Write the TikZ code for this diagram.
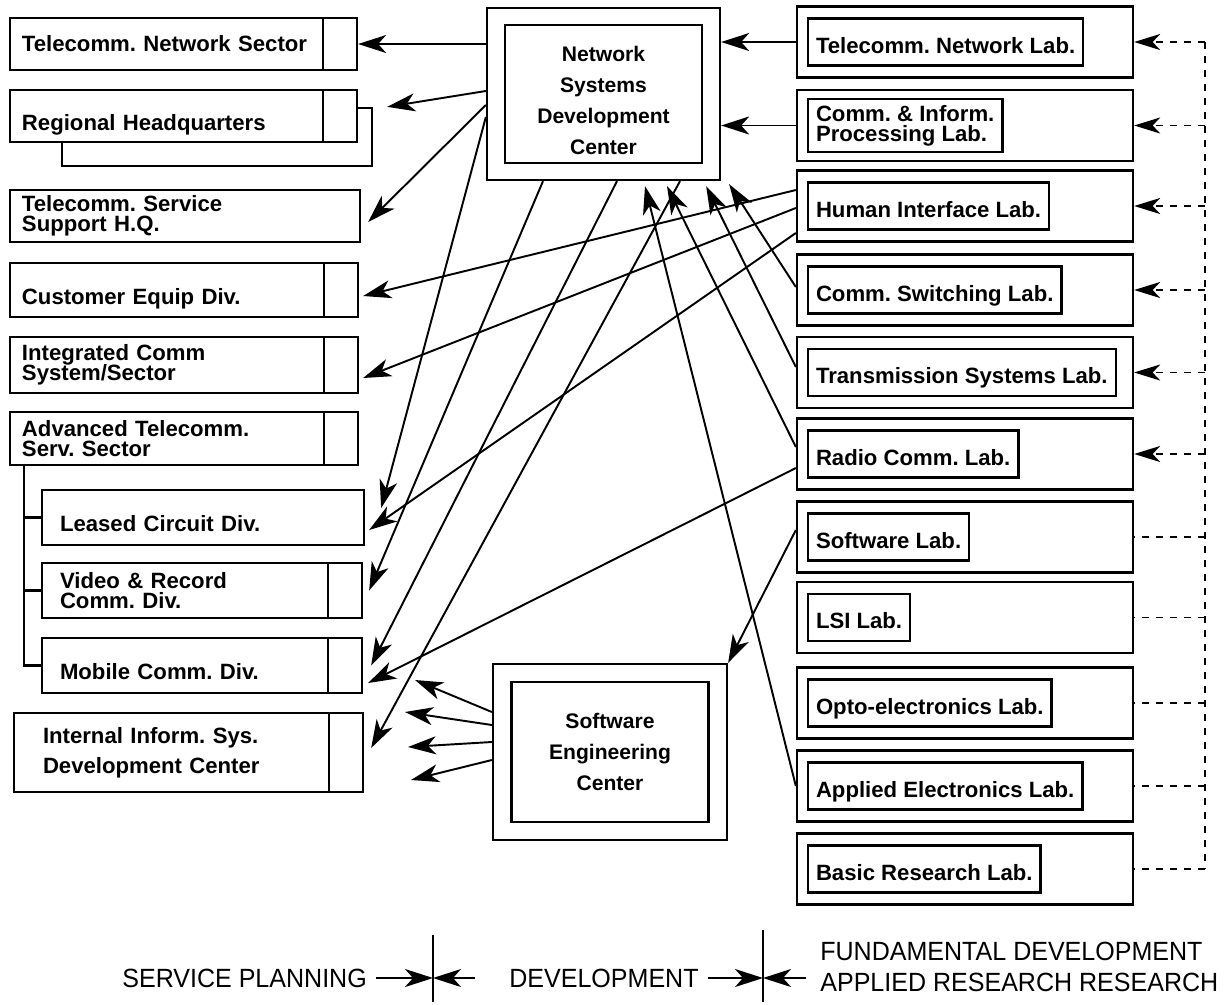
\documentclass[tikz,border=0pt]{standalone}
\usepackage{fontspec}
\newfontfamily\boxfamily{Liberation Sans}
\newfontfamily\legendfamily[FakeStretch=0.95]{Liberation Sans}
\usetikzlibrary{arrows.meta,positioning}

% fonts of the chart
\newcommand{\orgfont}{\boxfamily\bfseries\frenchspacing\fontsize{12.6}{11.5}\selectfont\lineskiplimit=-\maxdimen}
\newcommand{\ctrfont}{\boxfamily\bfseries\frenchspacing\fontsize{12}{17.5}\selectfont}
\newcommand{\legfont}{\legendfamily\fontsize{15}{18}\selectfont}

\begin{document}
\begin{tikzpicture}[
    every node/.append style={font=\orgfont},
    % box styles
    orgbox/.style={draw, line width=1.3pt, fill=white, inner xsep=0.24cm, inner ysep=0.1cm, text width=#1, align=left},
    oneline/.style={text height=0.62cm, text depth=0.06cm},
    tabbox/.style={path picture={\draw[line width=1.3pt] ([xshift=-0.68cm]path picture bounding box.north east) -- ([xshift=-0.68cm]path picture bounding box.south east);}},
    labbox/.style={draw, line width=1.3pt, minimum width=6.72cm, minimum height=1.42cm},
    labname/.style={draw, line width=1.3pt, inner xsep=0.16cm, minimum height=0.94cm, align=left},
    lowtext/.style={text height=0.5cm, text depth=0.05cm},
    centerbox/.style={draw, line width=1.3pt},
    legend/.style={font=\legfont, inner sep=0.18cm, anchor=west},
    % line styles
    arrow/.style={-{Stealth[length=0.56cm, width=0.36cm, inset=0.16cm]}, line width=1.1pt},
    ctrlarrow/.style={-{Stealth[length=0.52cm, width=0.32cm, inset=0.15cm]}, line width=1.1pt, dash pattern=on 0.14cm off 0.14cm},
    ctrlline/.style={line width=1.1pt, dash pattern=on 0.14cm off 0.14cm},
    tree/.style={line width=1.3pt},
    sepline/.style={line width=0.8pt},
]
\useasboundingbox (0,0) rectangle (24.56,-20.08);

% ========== service planning side ==========
\node[draw, line width=1.3pt, minimum width=6.2cm, minimum height=1.16cm] (rhqback) at (4.34,-2.74) {};

\node[orgbox=6.46cm, tabbox, minimum height=1.04cm] (tns) at (3.67,-0.88) {Telecomm. Network Sector};
\node[orgbox=6.46cm, tabbox, oneline, minimum height=1.04cm] (rhq) at (3.67,-2.32) {Regional Headquarters};
\node[orgbox=6.52cm, minimum height=1.04cm] (tss) at (3.70,-4.32) {Telecomm. Service\\Support H.Q.};
\node[orgbox=6.48cm, tabbox, oneline, minimum height=1.08cm] (ced) at (3.68,-5.80) {Customer Equip Div.};
\node[orgbox=6.48cm, tabbox, minimum height=1.12cm] (ics) at (3.68,-7.30) {Integrated Comm\\System/Sector};
\node[orgbox=6.48cm, tabbox, minimum height=1.06cm] (ats) at (3.68,-8.77) {Advanced Telecomm.\\Serv. Sector};

\node[orgbox=5.72cm, oneline, inner xsep=0.36cm, minimum height=1.10cm] (lcd) at (4.06,-10.35) {Leased Circuit Div.};
\node[orgbox=5.68cm, tabbox, inner xsep=0.36cm, minimum height=1.10cm] (vrc) at (4.04,-11.81) {Video \& Record\\Comm. Div.};
\node[orgbox=5.68cm, tabbox, oneline, inner xsep=0.36cm, minimum height=1.10cm] (mcd) at (4.04,-13.31) {Mobile Comm. Div.};
\node[orgbox=5.82cm, tabbox, inner xsep=0.58cm, minimum height=1.58cm, font={\boxfamily\bfseries\frenchspacing\fontsize{12.6}{17}\selectfont}] (iis) at (3.77,-15.05) {Internal Inform. Sys.\\Development Center};

% divisions under the sector
\coordinate (trunk) at (0.48,0);
\draw[tree] (ats.south -| trunk) |- (mcd.west);
\draw[tree] (lcd.west -| trunk) -- (lcd.west);
\draw[tree] (vrc.west -| trunk) -- (vrc.west);

% ========== development centers ==========
\node[centerbox, minimum width=4.66cm, minimum height=3.44cm] (nsdc) at (12.07,-1.88) {};
\node[centerbox, minimum width=3.94cm, minimum height=2.76cm, align=center, font=\ctrfont] (nsdc-in) at (nsdc.center) {\rule{0pt}{0.56cm}Network\\Systems\\Development\\Center};

\node[centerbox, minimum width=4.68cm, minimum height=3.52cm] (sec) at (12.20,-15.04) {};
\node[centerbox, minimum width=3.94cm, minimum height=2.80cm, align=center, font=\ctrfont] (sec-in) at (sec.center) {Software\\Engineering\\Center};

% ========== laboratories ==========
\node[labbox] (tnl) at (19.30,-0.84) {};
\node[labname, lowtext, right=0.22cm of tnl.west] (tnl-name) {Telecomm. Network Lab.};
\node[labbox] (cip) at (19.30,-2.51) {};
\node[labname, right=0.22cm of cip.west] (cip-name) {Comm. \& Inform.\\Processing Lab.};
\node[labbox] (hil) at (19.30,-4.12) {};
\node[labname, lowtext, right=0.22cm of hil.west] (hil-name) {Human Interface Lab.};
\node[labbox] (csl) at (19.30,-5.80) {};
\node[labname, lowtext, right=0.22cm of csl.west] (csl-name) {Comm. Switching Lab.};
\node[labbox] (tsl) at (19.30,-7.45) {};
\node[labname, lowtext, right=0.22cm of tsl.west] (tsl-name) {Transmission Systems Lab.};
\node[labbox] (rcl) at (19.30,-9.08) {};
\node[labname, lowtext, right=0.22cm of rcl.west] (rcl-name) {Radio Comm. Lab.};
\node[labbox] (swl) at (19.30,-10.74) {};
\node[labname, lowtext, right=0.22cm of swl.west] (swl-name) {Software Lab.};
\node[labbox] (lsi) at (19.30,-12.35) {};
\node[labname, lowtext, right=0.22cm of lsi.west] (lsi-name) {LSI Lab.};
\node[labbox] (oel) at (19.30,-14.06) {};
\node[labname, lowtext, right=0.22cm of oel.west] (oel-name) {Opto-electronics Lab.};
\node[labbox] (ael) at (19.30,-15.72) {};
\node[labname, lowtext, right=0.22cm of ael.west] (ael-name) {Applied Electronics Lab.};
\node[labbox] (brl) at (19.30,-17.38) {};
\node[labname, lowtext, right=0.22cm of brl.west] (brl-name) {Basic Research Lab.};

% ========== flows into NSDC ==========
\draw[arrow] (tnl.west) -- (tnl.west -| nsdc.east);
\draw[arrow] (cip.west) -- (cip.west -| nsdc.east);
\draw[arrow] ([yshift=0.06cm]csl.west) -- ([xshift=0.16cm,yshift=-0.06cm]nsdc.south east);
\draw[arrow] ([yshift=0.11cm]tsl.west) -- ([xshift=-0.3cm,yshift=-0.1cm]nsdc.south east);
\draw[arrow] ([yshift=0.14cm]rcl.west) -- ([xshift=1.27cm,yshift=-0.1cm]nsdc.south);
\draw[arrow] (ael.west) -- ([xshift=0.83cm,yshift=-0.1cm]nsdc.south);

% ========== flows out of NSDC ==========
\draw[arrow] (tns.east -| nsdc.west) -- (tns.east);
\draw[arrow] ([yshift=0.06cm]nsdc.west) -- ([xshift=0.28cm]rhqback.north east);
\draw[arrow] ([yshift=-0.22cm]nsdc.west) -- ([xshift=0.14cm,yshift=-0.12cm]tss.east);
\draw[arrow] ([yshift=-0.46cm]nsdc.west) -- ([xshift=0.32cm,yshift=0.19cm]lcd.east);
\draw[arrow] ([xshift=-1.21cm]nsdc.south) -- ([xshift=0.12cm]vrc.east);
\draw[arrow] ([xshift=0.27cm]nsdc.south) -- ([xshift=0.16cm]mcd.east);
\draw[arrow] ([xshift=1.53cm]nsdc.south) -- ([xshift=0.14cm,yshift=0.09cm]iis.east);

% ========== direct flows from labs ==========
\draw[arrow] ([yshift=0.32cm]hil.west) -- ([xshift=0.08cm,yshift=-0.12cm]ced.east);
\draw[arrow] ([yshift=-0.04cm]hil.west) -- ([xshift=0.08cm,yshift=-0.26cm]ics.east);
\draw[arrow] ([yshift=-0.54cm]hil.west) -- ([xshift=0.08cm,yshift=-0.25cm]lcd.east);
\draw[arrow] ([yshift=-0.28cm]rcl.west) -- ([xshift=0.1cm,yshift=-0.35cm]mcd.east);
\draw[arrow] ([yshift=0.14cm]swl.west) -- (sec.north east);

% ========== flows out of SEC ==========
\coordinate (out1) at (8.30,-13.60);
\coordinate (out2) at (8.10,-14.24);
\coordinate (out3) at (8.16,-14.94);
\coordinate (out4) at (8.22,-15.60);
\draw[arrow] ([yshift=0.80cm]sec.west) -- (out1);
\draw[arrow] ([yshift=0.54cm]sec.west) -- (out2);
\draw[arrow] ([yshift=0.20cm]sec.west) -- (out3);
\draw[arrow] ([yshift=-0.16cm]sec.west) -- (out4);

% ========== research link (dashed) ==========
\coordinate (bus) at (24.10,0);
\draw[ctrlline] (tnl.east -| bus) -- (brl.east -| bus);
\draw[ctrlarrow] (tnl.east -| bus) -- (tnl.east);
\draw[ctrlarrow] (cip.east -| bus) -- (cip.east);
\draw[ctrlarrow] (hil.east -| bus) -- (hil.east);
\draw[ctrlarrow] (csl.east -| bus) -- (csl.east);
\draw[ctrlarrow] (tsl.east -| bus) -- (tsl.east);
\draw[ctrlarrow] (rcl.east -| bus) -- (rcl.east);
\draw[ctrlline] (swl.east -| bus) -- (swl.east);
\draw[ctrlline] (lsi.east -| bus) -- (lsi.east);
\draw[ctrlline] (oel.east -| bus) -- (oel.east);
\draw[ctrlline] (ael.east -| bus) -- (ael.east);
\draw[ctrlline] (brl.east -| bus) -- (brl.east);

% ========== legend ==========
\node[legend] (splan) at (2.26,-19.56) {SERVICE PLANNING};
\node[legend] (dev) at (10.00,-19.56) {DEVELOPMENT};
\node[legend, align=left] (resch) at (16.22,-19.34) {FUNDAMENTAL DEVELOPMENT\\APPLIED RESEARCH RESEARCH};
\coordinate (sep1) at (8.66,-19.56);
\coordinate (sep2) at (15.26,-19.56);
\draw[sepline] ([yshift=0.86cm]sep1) -- ([yshift=-0.48cm]sep1);
\draw[sepline] ([yshift=0.96cm]sep2) -- ([yshift=-0.48cm]sep2);
\draw[arrow] (splan.east) -- (sep1);
\draw[arrow] ([xshift=0.84cm]sep1) -- (sep1);
\draw[arrow] (dev.east) -- (sep2);
\draw[arrow] ([xshift=0.86cm]sep2) -- (sep2);

\end{tikzpicture}
\end{document}
